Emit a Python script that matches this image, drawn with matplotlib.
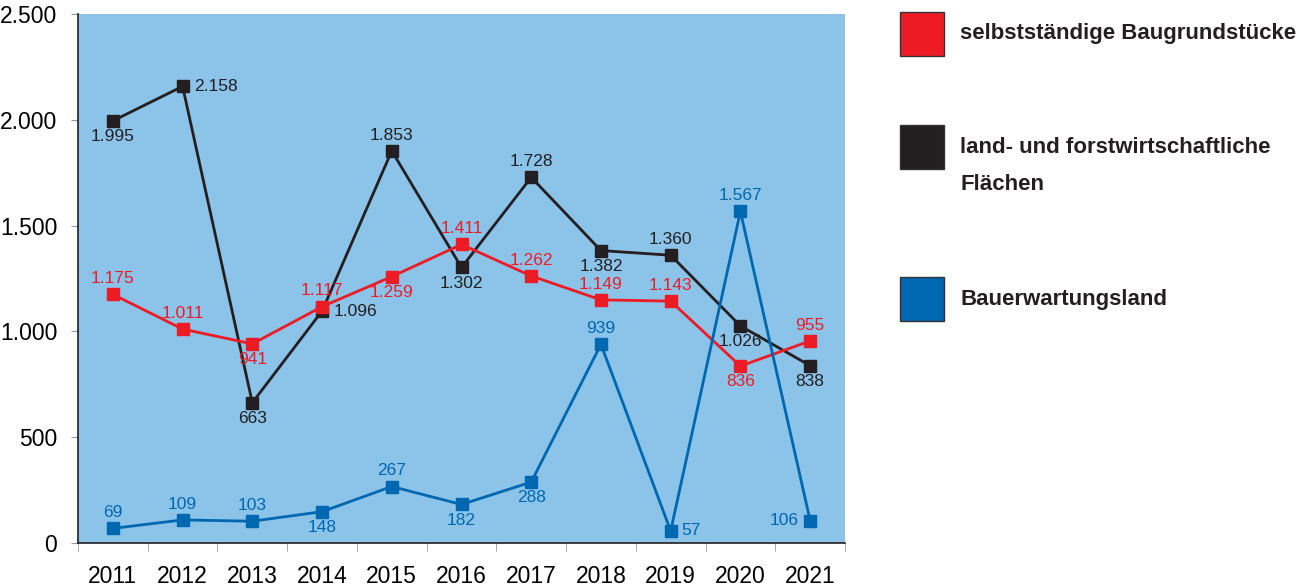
import matplotlib
matplotlib.use("Agg")
import matplotlib.pyplot as plt
from matplotlib.patches import Rectangle

plt.rcParams['font.family'] = ['Liberation Sans', 'DejaVu Sans']

years = [2011, 2012, 2013, 2014, 2015, 2016, 2017, 2018, 2019, 2020, 2021]
baugrund = [1175, 1011, 941, 1117, 1259, 1411, 1262, 1149, 1143, 836, 955]
landforst = [1995, 2158, 663, 1096, 1853, 1302, 1728, 1382, 1360, 1026, 838]
bauerwartung = [69, 109, 103, 148, 267, 182, 288, 939, 57, 1567, 106]

# where to put each value label: a=above, b=below, r=right, l=left
pos_rot = ['a', 'a', 'b', 'a', 'b', 'a', 'a', 'a', 'a', 'b', 'a']
pos_schwarz = ['b', 'r', 'b', 'r', 'a', 'b', 'a', 'b', 'a', 'b', 'b']
pos_blau = ['a', 'a', 'a', 'b', 'a', 'b', 'b', 'a', 'r', 'a', 'l']

RED = '#ED1C24'
BLACK = '#231F20'
BLUE = '#0067B1'
BG = '#8CC3E9'


def fmt(v):
    return f"{v:,}".replace(',', '.')


def label_points(ax, vals, where, color):
    offs = {'a': (0, 6, 'center', 'bottom'), 'b': (0, -6, 'center', 'top'),
            'r': (8, 0, 'left', 'center'), 'l': (-8, 0, 'right', 'center')}
    for i, (v, w) in enumerate(zip(vals, where)):
        dx, dy, ha, va = offs[w]
        ax.annotate(fmt(v), (i, v), xytext=(dx, dy), textcoords='offset points',
                    ha=ha, va=va, color=color, fontsize=12.5)


fig = plt.figure(figsize=(13.12, 5.86), dpi=100)
ax = fig.add_axes([78 / 1312, 43 / 586, 767 / 1312, 529 / 586])
ax.set_facecolor(BG)

x = list(range(len(years)))
for vals, col, where in [(landforst, BLACK, pos_schwarz), (baugrund, RED, pos_rot),
                         (bauerwartung, BLUE, pos_blau)]:
    ax.plot(x, vals, color=col, lw=2, marker='s', ms=9, zorder=3)
    label_points(ax, vals, where, col)

ax.set_xlim(-0.5, len(years) - 0.5)
ax.set_ylim(0, 2500)
ax.set_yticks([0, 500, 1000, 1500, 2000, 2500])
ax.set_yticklabels([fmt(v) for v in [0, 500, 1000, 1500, 2000, 2500]], fontsize=16.5)
ax.set_xticks(x)
ax.set_xticklabels([str(y) for y in years], fontsize=16.5)
ax.tick_params(axis='x', length=0, pad=16)
ax.tick_params(axis='y', length=5, color='#999999', pad=10)
ax.set_xticks([i - 0.5 for i in range(len(years) + 1)], minor=True)
ax.tick_params(axis='x', which='minor', length=6, color='#999999')
for s in ['top', 'right']:
    ax.spines[s].set_visible(False)
for s in ['left', 'bottom']:
    ax.spines[s].set_color(BLACK)
    ax.spines[s].set_linewidth(1.2)

# legend on the right
legend = [(RED, ['selbstständige Baugrundstücke'], 34),
          (BLACK, ['land- und forstwirtschaftliche', 'Flächen'], 147),
          (BLUE, ['Bauerwartungsland'], 299)]
for col, lines, yc in legend:
    fig.patches.append(Rectangle((900 / 1312, 1 - (yc + 22) / 586), 44 / 1312, 44 / 586,
                                 transform=fig.transFigure, facecolor=col,
                                 edgecolor='#333333', lw=1))
    for k, txt in enumerate(lines):
        fig.text(960 / 1312, 1 - (yc + k * 37) / 586, txt, fontsize=16, fontweight='bold',
                 color=BLACK, va='center', ha='left')

fig.savefig('out.png', dpi=100)
